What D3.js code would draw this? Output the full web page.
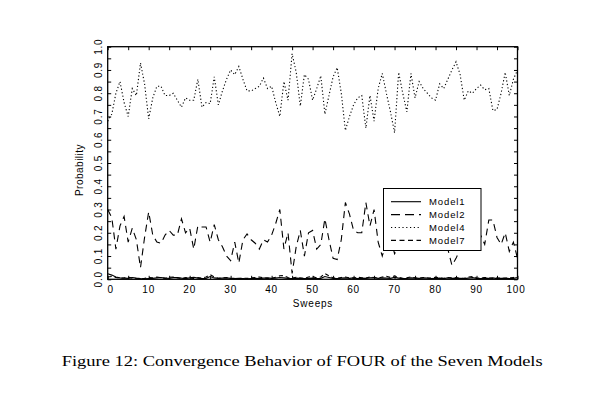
<!DOCTYPE html>
<html><head><meta charset="utf-8">
<script src="https://cdn.jsdelivr.net/npm/d3@7"></script>
<style>
body{margin:0;background:#fff;}
svg{display:block;}
</style></head>
<body>
<svg id="chart" width="602" height="398"></svg>
<script>
const sweeps = d3.range(0, 101);
const model1 = [0.024,0.018,0.01,0.006,0.005,0.004,0.008,0.005,0.003,0.002,0.003,0.004,0.006,0.008,0.005,0.004,0.007,0.008,0.005,0.003,0.006,0.009,0.005,0.003,0.004,0.012,0.006,0.004,0.005,0.006,0.004,0.003,0.004,0.003,0.002,0.003,0.004,0.003,0.005,0.006,0.004,0.005,0.008,0.006,0.004,0.003,0.005,0.004,0.003,0.004,0.005,0.003,0.004,0.012,0.008,0.004,0.003,0.005,0.006,0.004,0.006,0.003,0.005,0.004,0.006,0.007,0.004,0.006,0.005,0.004,0.009,0.005,0.003,0.004,0.006,0.005,0.004,0.006,0.005,0.003,0.004,0.005,0.003,0.006,0.004,0.005,0.004,0.003,0.005,0.007,0.004,0.003,0.005,0.004,0.006,0.003,0.004,0.005,0.003,0.004,0.008];
const model2 = [0.30,0.265,0.13,0.23,0.27,0.16,0.22,0.17,0.05,0.18,0.29,0.19,0.16,0.155,0.19,0.21,0.19,0.19,0.26,0.20,0.22,0.13,0.23,0.225,0.225,0.16,0.235,0.17,0.14,0.10,0.08,0.16,0.07,0.17,0.195,0.17,0.155,0.13,0.17,0.16,0.19,0.24,0.30,0.13,0.20,0.025,0.14,0.21,0.10,0.20,0.21,0.13,0.15,0.26,0.17,0.09,0.085,0.17,0.33,0.28,0.21,0.20,0.20,0.33,0.23,0.30,0.16,0.10,0.16,0.18,0.11,0.14,0.20,0.17,0.22,0.15,0.19,0.21,0.18,0.16,0.20,0.17,0.19,0.13,0.06,0.09,0.13,0.17,0.20,0.18,0.16,0.19,0.15,0.255,0.255,0.18,0.15,0.20,0.12,0.16,0.09];
const model4 = [0.68,0.71,0.80,0.85,0.76,0.70,0.82,0.79,0.93,0.84,0.69,0.78,0.83,0.83,0.79,0.79,0.80,0.77,0.74,0.78,0.77,0.77,0.86,0.74,0.76,0.755,0.87,0.75,0.81,0.86,0.90,0.88,0.915,0.86,0.81,0.81,0.82,0.83,0.865,0.82,0.83,0.76,0.70,0.85,0.77,0.97,0.89,0.745,0.88,0.86,0.77,0.82,0.875,0.71,0.79,0.87,0.91,0.80,0.64,0.70,0.75,0.78,0.79,0.65,0.79,0.68,0.82,0.885,0.80,0.72,0.63,0.89,0.80,0.72,0.885,0.78,0.85,0.82,0.80,0.78,0.77,0.84,0.82,0.86,0.90,0.935,0.88,0.77,0.81,0.80,0.82,0.835,0.815,0.82,0.725,0.73,0.80,0.89,0.79,0.86,0.90];
const model7 = [0.01,0.012,0.008,0.004,0.006,0.009,0.005,0.003,0.002,0.004,0.008,0.006,0.01,0.007,0.004,0.009,0.01,0.006,0.003,0.008,0.005,0.004,0.007,0.005,0.01,0.02,0.01,0.004,0.006,0.008,0.005,0.004,0.003,0.005,0.004,0.006,0.008,0.01,0.006,0.004,0.005,0.009,0.015,0.016,0.008,0.005,0.009,0.006,0.004,0.01,0.012,0.006,0.01,0.025,0.015,0.006,0.004,0.008,0.01,0.006,0.005,0.009,0.007,0.005,0.01,0.008,0.005,0.01,0.013,0.008,0.015,0.008,0.004,0.007,0.01,0.006,0.004,0.008,0.006,0.005,0.009,0.006,0.004,0.008,0.006,0.007,0.005,0.004,0.01,0.012,0.007,0.005,0.008,0.006,0.004,0.006,0.005,0.004,0.006,0.008,0.01];
const seriesNames = ["Model1","Model2","Model4","Model7"];
const xTickLabels = [0,10,20,30,40,50,60,70,80,90,100];
const yTickLabels = [0.0,0.1,0.2,0.3,0.4,0.5,0.6,0.7,0.8,0.9,1.0];
const caption = "Figure 12: Convergence Behavior of FOUR of the Seven Models";

const svg = d3.select("#chart");
const L = 107.7, R = 517.5, T = 46.7, B = 279.3;
const x = d3.scaleLinear().domain([0,100]).range([L,R]);
const y = d3.scaleLinear().domain([0,1]).range([B,T]);
const font = "'Liberation Sans', Arial, sans-serif";

const series = [
  {name:"Model1", values:model1, dash:null},
  {name:"Model2", values:model2, dash:"7,5"},
  {name:"Model4", values:model4, dash:"1.2,2.3"},
  {name:"Model7", values:model7, dash:"4,3"}
];
const legendDash = {"Model1":null,"Model2":"9,5","Model4":"1.2,2.6","Model7":"5,3.5"};

const line = d3.line().x((d,i)=>x(sweeps[i])).y(d=>y(d));
const plot = svg.append("g");
series.forEach(s=>{
  plot.append("path").datum(s.values).attr("d",line)
    .attr("fill","none").attr("stroke","#000").attr("stroke-width",1.1)
    .attr("stroke-dasharray",s.dash);
});

function styleAxis(g){ g.select(".domain").remove(); g.selectAll("line").attr("stroke","#000"); }
const xMinor = d3.range(0,101,5);
const yMinor = d3.range(0,1.0001,0.05);
svg.append("g").attr("transform",`translate(0,${B})`)
  .call(d3.axisBottom(x).tickValues(xMinor).tickSize(-3.5).tickFormat(""))
  .call(styleAxis);
svg.append("g").attr("transform",`translate(0,${T})`)
  .call(d3.axisTop(x).tickValues(xMinor).tickSize(-3.5).tickFormat(""))
  .call(styleAxis);
svg.append("g").attr("transform",`translate(${L},0)`)
  .call(d3.axisLeft(y).tickValues(yMinor).tickSize(-3.5).tickFormat(""))
  .call(styleAxis);
svg.append("g").attr("transform",`translate(${R},0)`)
  .call(d3.axisRight(y).tickValues(yMinor).tickSize(-3.5).tickFormat(""))
  .call(styleAxis);

svg.append("rect").attr("x",L).attr("y",T).attr("width",R-L).attr("height",B-T)
  .attr("fill","none").attr("stroke","#000").attr("stroke-width",1.3);

svg.append("g").selectAll("text").data(xTickLabels).join("text")
  .attr("x",d=>x(d)+(d===0?3:(d===100?-1.5:0))).attr("y",292.5)
  .attr("text-anchor","middle").attr("font-family",font).attr("font-size",10)
  .attr("letter-spacing",0.8).text(d=>d);
svg.append("g").selectAll("text").data(yTickLabels).join("text")
  .attr("transform",d=>`translate(102,${y(d)}) rotate(-90)`)
  .attr("text-anchor","middle").attr("font-family",font).attr("font-size",10)
  .attr("letter-spacing",0.8).text(d=>d.toFixed(1));

svg.append("text").attr("transform","translate(83,170) rotate(-90)")
  .attr("text-anchor","middle").attr("font-family",font).attr("font-size",10)
  .attr("letter-spacing",0.5).text("Probability");
svg.append("text").attr("x",313).attr("y",307)
  .attr("text-anchor","middle").attr("font-family",font).attr("font-size",10)
  .attr("letter-spacing",0.8).text("Sweeps");

const lg = svg.append("g");
lg.append("rect").attr("x",383.5).attr("y",188.5).attr("width",97.5).attr("height",62)
  .attr("fill","#fff").attr("stroke","#000").attr("stroke-width",1);
seriesNames.forEach((n,i)=>{
  const yy = 201.7 + i*12.9;
  lg.append("line").attr("x1",391).attr("x2",421).attr("y1",yy).attr("y2",yy)
    .attr("stroke","#000").attr("stroke-width",1.1).attr("stroke-dasharray",legendDash[n]);
  lg.append("text").attr("x",429).attr("y",yy+3.5).attr("font-family",font)
    .attr("font-size",9.5).attr("letter-spacing",0.9).text(n);
});

svg.append("text").attr("x",61.7).attr("y",366).attr("font-family","'Liberation Serif','DejaVu Serif',serif")
  .attr("font-size",15).attr("textLength",481).attr("lengthAdjust","spacingAndGlyphs")
  .text(caption);
</script>
</body></html>
